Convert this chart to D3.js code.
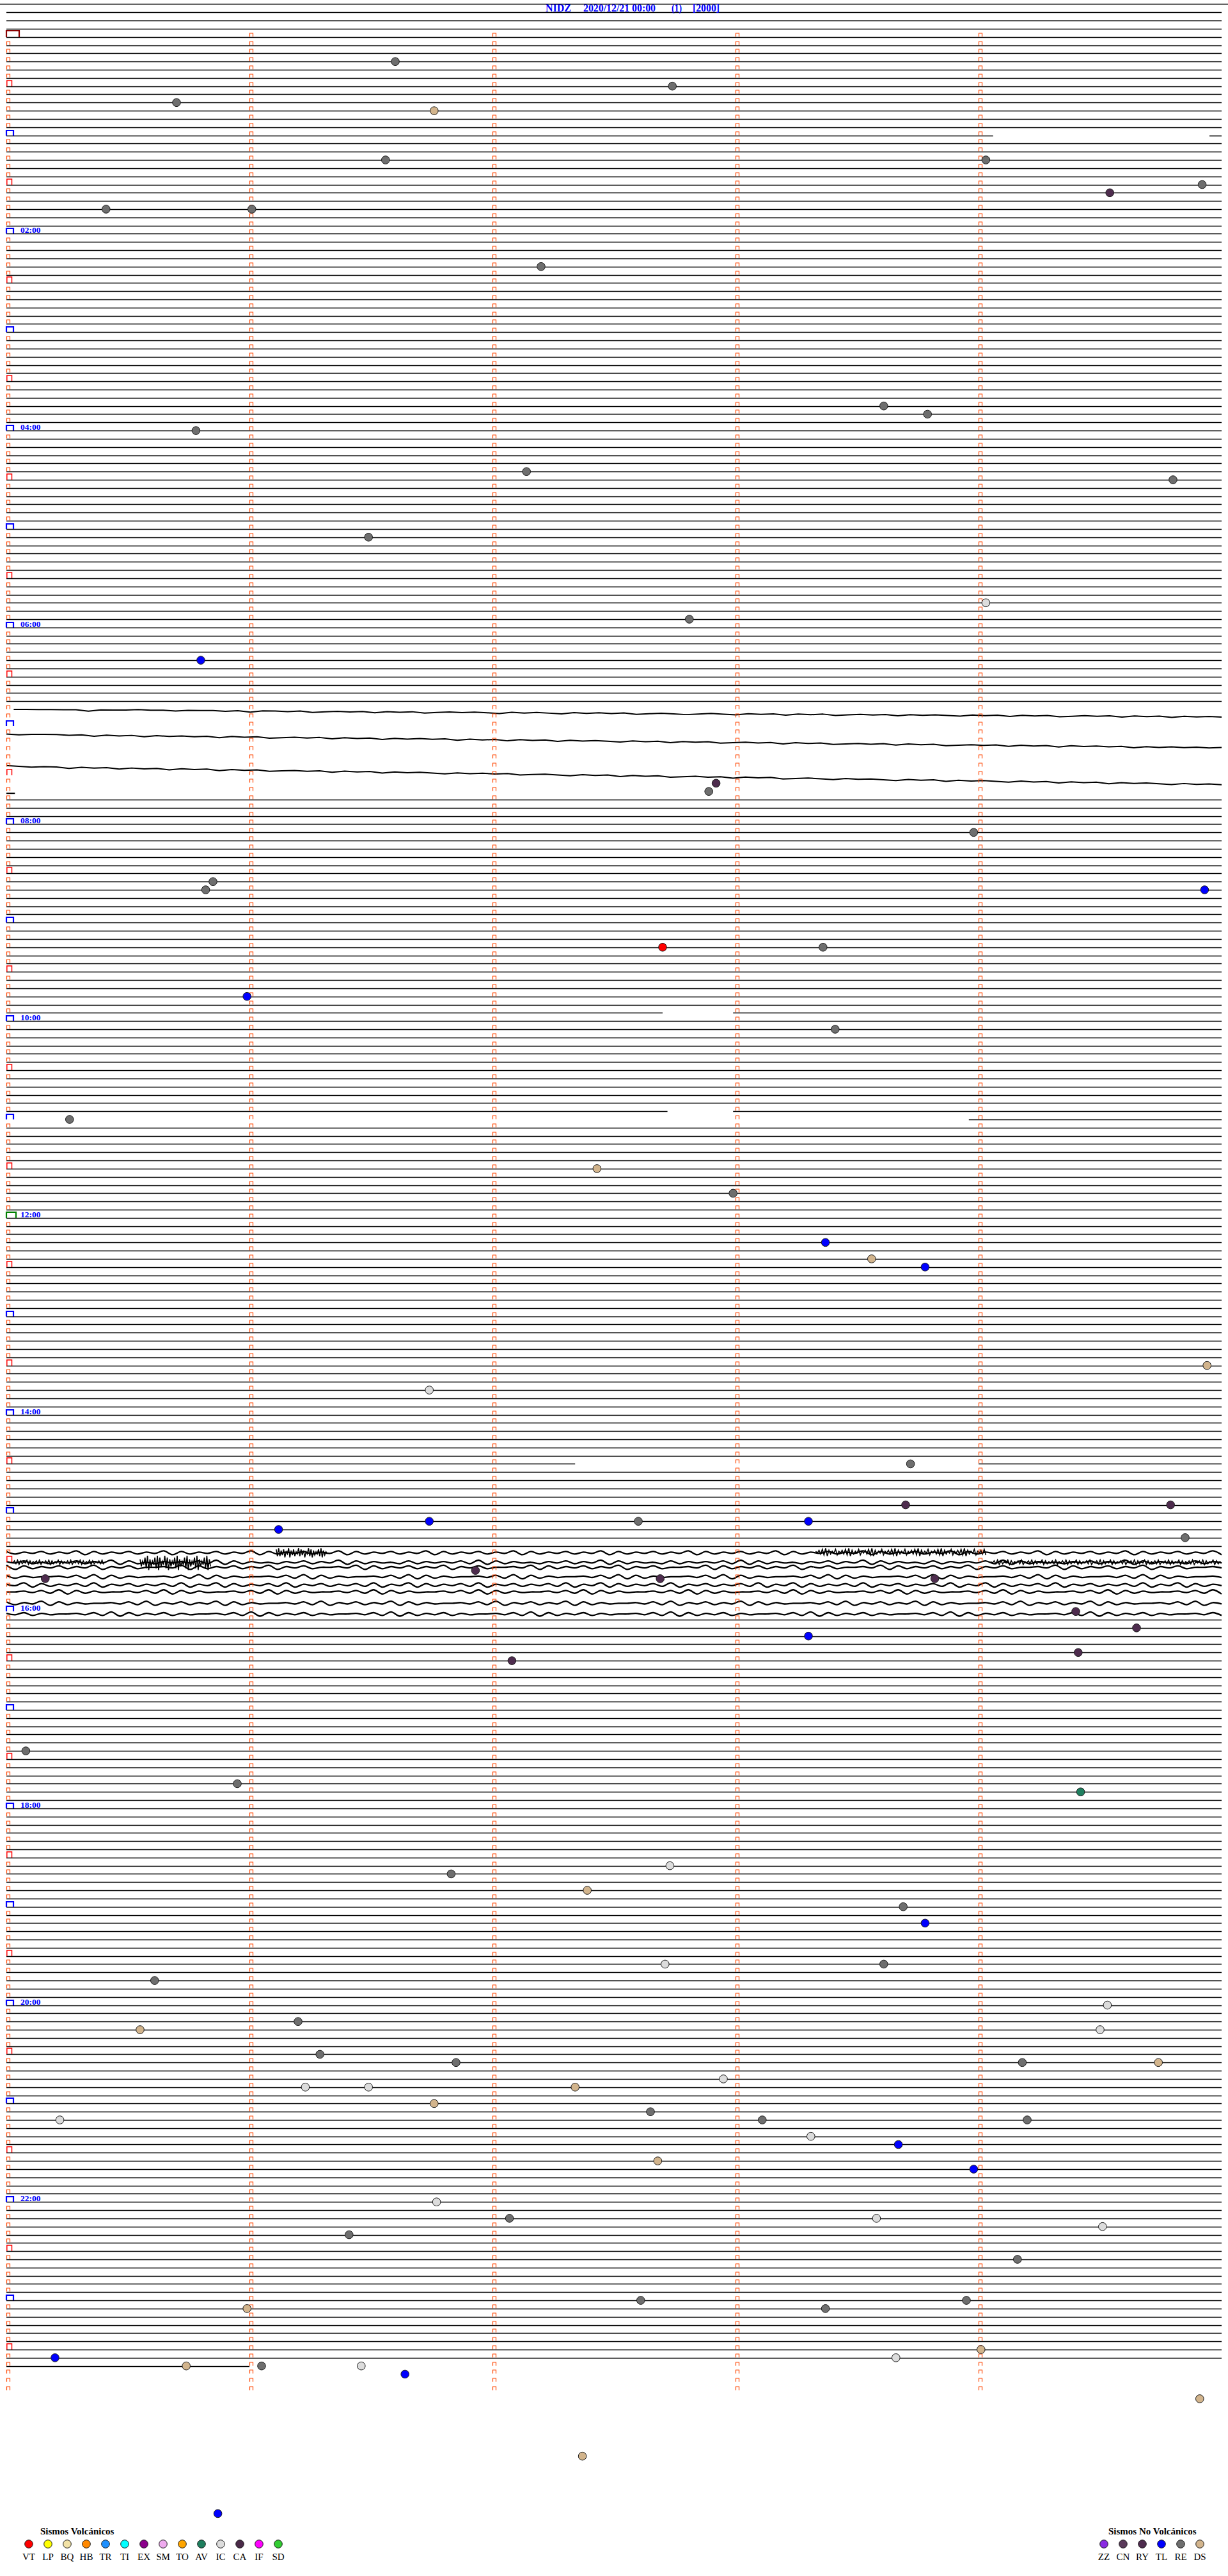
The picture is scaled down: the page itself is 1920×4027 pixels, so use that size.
<!DOCTYPE html>
<html><head><meta charset="utf-8">
<script src="https://cdn.jsdelivr.net/npm/d3@7"></script>
<style>body{margin:0;background:#fff}svg{display:block}</style>
</head><body>
<script>
// ---------------- DATA ----------------
const titleParts = ["NIDZ", "2020/12/21 00:00", "(1)", "[2000]"];
const rowMinutes = 5;            // minutes per helicorder line
const firstHourRow = 3;          // row index of 00:00
const traceRowCount = 288;       // rows with trace data (0..287)
const lastRowEndMin = 1.0;       // data stops after 1 min on last row
const tickRowLast = 290;
const hourLabels = ["02:00","04:00","06:00","08:00","10:00","12:00","14:00","16:00","18:00","20:00","22:00"];

// events: minutes after 00:00, and their type
const eventMinutes = [16.60,32.74,40.70,46.76,76.56,79.03,99.54,94.92,105.41,106.01,
  142.20,228.61,233.79,240.78,267.14,274.80,306.49,349.03,357.81,380.80,
  457.92,462.89,488.98,515.85,520.82,524.93,557.70,558.36,585.99,608.41,
  660.26,692.43,707.99,738.37,748.56,753.78,814.94,826.74,873.72,898.70,
  899.79,911.12,906.74,907.60,908.30,919.85,940.16,936.93,942.69,943.82,
  964.40,974.65,978.30,989.41,992.08,1045.08,1065.95,1074.42,1121.83,1117.73,
  1132.39,1143.69,1153.78,1177.71,1178.61,1185.61,1204.53,1211.20,1215.55,1219.50,
  1231.29,1236.85,1239.18,1239.74,1247.95,1251.23,1251.49,1252.34,1261.76,1267.65,
  1270.22,1273.11,1274.20,1283.31,1288.67,1297.68,1303.98,1321.77,1332.07,1333.58,
  1339.51,1341.41,1359.16,1382.61,1385.99,1388.37,1383.95,1415.20,1418.66,1420.74,
  1421.05,1421.46,1414.01,1426.64,1444.91,1477.37,1510.87];
const eventTypes = ["RE","RE","RE","DS","RE","RE","RY","RE","RE","RE",
  "RE","RE","RE","RE","RE","RE","RE","IC","RE","TL",
  "RY","RE","RE","RE","RE","TL","VT","RE","TL","RE",
  "RE","DS","RE","TL","DS","TL","DS","IC","RE","RY",
  "RY","TL","TL","RE","TL","RE","RY","RY","RY","RY",
  "RY","RY","TL","RY","RY","RE","RE","AV","RE","IC",
  "DS","RE","TL","IC","RE","RE","IC","RE","DS","IC",
  "RE","RE","RE","DS","IC","IC","IC","DS","DS","RE",
  "IC","RE","RE","IC","TL","DS","TL","IC","RE","IC",
  "IC","RE","RE","RE","DS","RE","RE","TL","IC","DS",
  "RE","IC","DS","TL","DS","DS","TL"];

const volcanicCodes  = ["VT","LP","BQ","HB","TR","TI","EX","SM","TO","AV","IC","CA","IF","SD"];
const volcanicColors = ["#ff0000","#ffff00","#f2e2a6","#ff8800","#1e90ff","#00ffff","#8b008b","#eeaaee","#ffa500","#1f7f5f","#dcdcdc","#4a2a48","#ff00ff","#32cd32"];
const nonVolcanicCodes  = ["ZZ","CN","RY","TL","RE","DS"];
const nonVolcanicColors = ["#8a2be2","#5a3a5a","#4e2c4e","#0000ff","#6e6e6e","#d2b48c"];

// gaps in traces: row, from minute, to minute
const gapRows = [15, 122, 134, 135, 177];
const gapFrom = [4.06, 2.70, 2.72, 0.0, 2.34];
const gapTo   = [4.95, 2.99, 2.99, 3.96, 4.00];

// rows with no visible trace
const missingRows = [86, 87, 89, 90, 91, 93, 94];

// rows drawn from waveform samples (px offsets, digit-coded, 5 = rest)
const waveRows  = [85, 88, 92, 95, 188, 189, 190, 191, 192, 193, 194, 195];
const waveFrom  = [0.03, 0.0, 0.0, 0.0, 0.0, 0.0, 0.0, 0.0, 0.0, 0.0, 0.0, 0.0];
const waveTo    = [5, 5, 5, 0.035, 5, 5, 5, 5, 5, 5, 5, 5];
const waveBase  = [0, 0, -1, 3, -2, 0, -5, -3, -3, -5, 0, 4];
const waveGain  = [1, 1, 1, 1, 1.0, 1.1, 1.1, 1.1, 1.1, 1.1, 1.1, 1.1];
const waveTrend = [11, 21, 28, 0, 0, 0, 0, 0, 0, 0, 0, 0];
const waveCodes = [
 "55555575554556555657556576565756576565675656756565765676567565756576565756567565756576565756575656",
 "56555657565756565756576565756575656575657565756567565756576565756576565756576565756575656575656565",
 "45655756575657565756576565756575656756565765675657565765657565765675656756575656756575657565675656",
 "55",
 "37463746283746374628374637462837463746283746374628374637462837463746283746374628374637462837463746283746374628374637462837463746283746374628",
 "46375746374628375746463728374657463746283746573746463728374657463746283746573746463728374657463746283746573746463728374657463746283746573746",
 "28374637462846375546283746374628463755462837463746284637554628374637462846375546283746374628463755462837463746284637554628374637462846375546",
 "37465546372837465546372837465546372837465546372837465546372837465546372837465546372837465546372837465546372837465546372837465546372837465546",
 "46283746372846374637284628374637284637463728462837463728463746372846283746372846374637284628374637284637463728462837463728463746372846283746",
 "55463728374655463728374655463728374655463728374655463728374655463728374655463728374655463728374655463728374655463728374655463728374655463728",
 "37462837465546372846374628374655463728463746283746554637284637462837465546372846374628374655463728463746283746554637284637462837465546372846",
 "46374655463728374637465546372837463746554637283746374655463728374637465546372837463746554637283746374655463728374637465546372837463746554637"
];

// high-frequency bursts drawn over the wavy rows
const burstRows = [188, 189, 188, 189, 189];
const burstFrom = [1.11, 0.55, 3.33, 4.05, 0.02];
const burstTo   = [1.32, 0.84, 4.03, 5.00, 0.40];
const burstBase = [-2, 1, -3, 0, 0];
const burstGain = [1.8, 2.8, 1.5, 1.2, 1.1];
const burstCodes = [
 "281837294619372846182739461829374628193746",
 "3746281937462819274618293746281937462819374628193746281937",
 "46372819374628463728193746284637281937462846372819374628463728193746284637281937462846372819374628463728",
 "4637283746283746372846372837462837463728463728374628374637284637283746283746372846372837462837463728463728374628374637284637283746283746",
 "463728374628374637284637283746283746372846372837462837463728"
];

// ---------------- DRAW ----------------
const W = 1920, H = 4027;
const svg = d3.select("body").append("svg").attr("width", W).attr("height", H)
  .style("font-family", "'Liberation Serif','Times New Roman',serif");
svg.append("rect").attr("width", W).attr("height", H).attr("fill", "#fff");

const x = d3.scaleLinear().domain([0, rowMinutes]).range([10, 1910]);
const rowY = d3.scaleLinear().domain([0, 1]).range([19.3, 32.12]);
const lineY = r => Math.round(rowY(r)) + 0.5;
const typeColor = new Map();
volcanicCodes.forEach((c, i) => typeColor.set(c, volcanicColors[i]));
nonVolcanicCodes.forEach((c, i) => typeColor.set(c, nonVolcanicColors[i]));

// top rule
svg.append("line").attr("x1", 0).attr("x2", W).attr("y1", lineY(-1)).attr("y2", lineY(-1))
  .attr("stroke", "#000").attr("stroke-width", 1.6);

// flat traces
const gTr = svg.append("g").attr("stroke", "#000").attr("stroke-width", 1.6).attr("fill", "none");
for (let r = 0; r < traceRowCount; r++) {
  if (missingRows.includes(r) || waveRows.includes(r)) continue;
  const end = r === traceRowCount - 1 ? lastRowEndMin : rowMinutes;
  let segs = [[0, end]];
  gapRows.forEach((gr, i) => {
    if (gr !== r) return;
    const out = [];
    segs.forEach(([a, b]) => {
      if (gapTo[i] <= a || gapFrom[i] >= b) { out.push([a, b]); return; }
      if (gapFrom[i] > a) out.push([a, gapFrom[i]]);
      if (gapTo[i] < b) out.push([gapTo[i], b]);
    });
    segs = out;
  });
  segs.forEach(([a, b]) => {
    gTr.append("line").attr("x1", x(a)).attr("x2", x(b))
      .attr("y1", lineY(r)).attr("y2", lineY(r));
  });
}

// wave traces
function drawCoded(g, r, from, to, base, gain, trendEnd, code, curve) {
  const vals = code.split("").map(Number);
  const n = vals.length;
  const tIdx = d3.scaleLinear().domain([0, Math.max(1, n - 1)]).range([from, to]);
  const amp = d3.scaleLinear().domain([5, 6]).range([base, base + gain]);
  const trend = d3.scaleLinear().domain([0, Math.max(1, n - 1)]).range([0, trendEnd]);
  const line = d3.line().x((d, j) => x(tIdx(j))).y((d, j) => rowY(r) + amp(d) + trend(j)).curve(curve);
  return g.append("path").attr("d", line(vals));
}
const gW = svg.append("g").attr("stroke", "#000").attr("fill", "none").attr("stroke-linejoin", "round");
waveRows.forEach((r, i) => {
  drawCoded(gW, r, waveFrom[i], waveTo[i], waveBase[i], waveGain[i], waveTrend[i], waveCodes[i],
    r > 150 ? d3.curveCatmullRom : d3.curveLinear)
    .attr("stroke-width", r > 150 ? 2.3 : 2.0);
});
const gB = svg.append("g").attr("stroke", "#000").attr("stroke-width", 1.6).attr("fill", "none");
burstRows.forEach((r, i) => {
  drawCoded(gB, r, burstFrom[i], burstTo[i], burstBase[i], burstGain[i], 0, burstCodes[i], d3.curveLinear);
});

// minute ticks and hour / half-hour markers
const gTk = svg.append("g").attr("fill", "none");
for (let r = firstHourRow; r <= tickRowLast; r++) {
  const k = r - firstHourRow;
  const y0 = lineY(r) - 0.5;
  const isHour = k % 12 === 0, isHalf = k % 12 === 6;
  for (let m = 0; m < rowMinutes; m++) {
    if (m === 0 && (isHour || isHalf)) continue;
    const x0 = Math.round(x(m)) + 0.5;
    gTk.append("path").attr("d", `M${x0},${y0 - 0.5}V${y0 - 6}H${x0 + 5}V${y0 - 0.5}`)
      .attr("stroke", "#ff4500").attr("stroke-width", 1.2);
  }
  if (isHalf) {
    gTk.append("path").attr("d", `M${x(0) + 0.8},${y0}V${y0 - 9}H${x(0) + 8.5}V${y0}`)
      .attr("stroke", "#ff0000").attr("stroke-width", 1.5);
  }
  if (isHour) {
    const h = k / 12;
    let col = "#0000ff", w = 11, hh = 8;
    if (h === 0 || h === 24) { col = "#8b0000"; w = 20; hh = 10; }
    if (h === 12) { col = "#008000"; w = 15; hh = 9; }
    gTk.append("path").attr("d", `M${x(0)},${y0}V${y0 - hh}H${x(0) + w}V${y0}`)
      .attr("stroke", col).attr("stroke-width", 2.2);
    if (h % 2 === 0 && h > 0 && h < 24) {
      svg.append("text").attr("x", 32).attr("y", y0 - 1).attr("fill", "#0000ff")
        .attr("font-weight", "bold").attr("font-size", 13.5).text(hourLabels[h / 2 - 1]);
    }
  }
}

// events
const gE = svg.append("g");
eventMinutes.forEach((t, i) => {
  const r = firstHourRow + Math.floor(t / rowMinutes);
  const m = t - Math.floor(t / rowMinutes) * rowMinutes;
  gE.append("circle").attr("cx", x(m)).attr("cy", rowY(r)).attr("r", 6.3)
    .attr("fill", typeColor.get(eventTypes[i])).attr("stroke", "#1a1a1a").attr("stroke-width", 1);
});

// title
const titleX = [853, 912, 1050, 1083];
const titleW = [40, 113, 16, 42];
titleParts.forEach((s, i) => {
  svg.append("text").attr("x", titleX[i]).attr("y", 17.5).attr("fill", "#0000ff")
    .attr("font-weight", "bold").attr("font-size", 16)
    .attr("textLength", titleW[i]).attr("lengthAdjust", "spacingAndGlyphs").text(s);
});

// legends
function legend(title, tx, codes, colors, cx0) {
  svg.append("text").attr("x", tx).attr("y", 3962).attr("font-weight", "bold")
    .attr("font-size", 15).attr("fill", "#000").text(title);
  const lx = d3.scalePoint().domain(codes).range([cx0, cx0 + 30 * (codes.length - 1)]);
  codes.forEach((c, i) => {
    svg.append("circle").attr("cx", lx(c)).attr("cy", 3977).attr("r", 6.3)
      .attr("fill", colors[i]).attr("stroke", "#1a1a1a").attr("stroke-width", 1);
    svg.append("text").attr("x", lx(c)).attr("y", 4002).attr("text-anchor", "middle")
      .attr("font-size", 15).attr("fill", "#000").text(c);
  });
}
legend("Sismos Volcánicos", 63, volcanicCodes, volcanicColors, 45);
legend("Sismos No Volcánicos", 1733, nonVolcanicCodes, nonVolcanicColors, 1726);
</script>
</body></html>
